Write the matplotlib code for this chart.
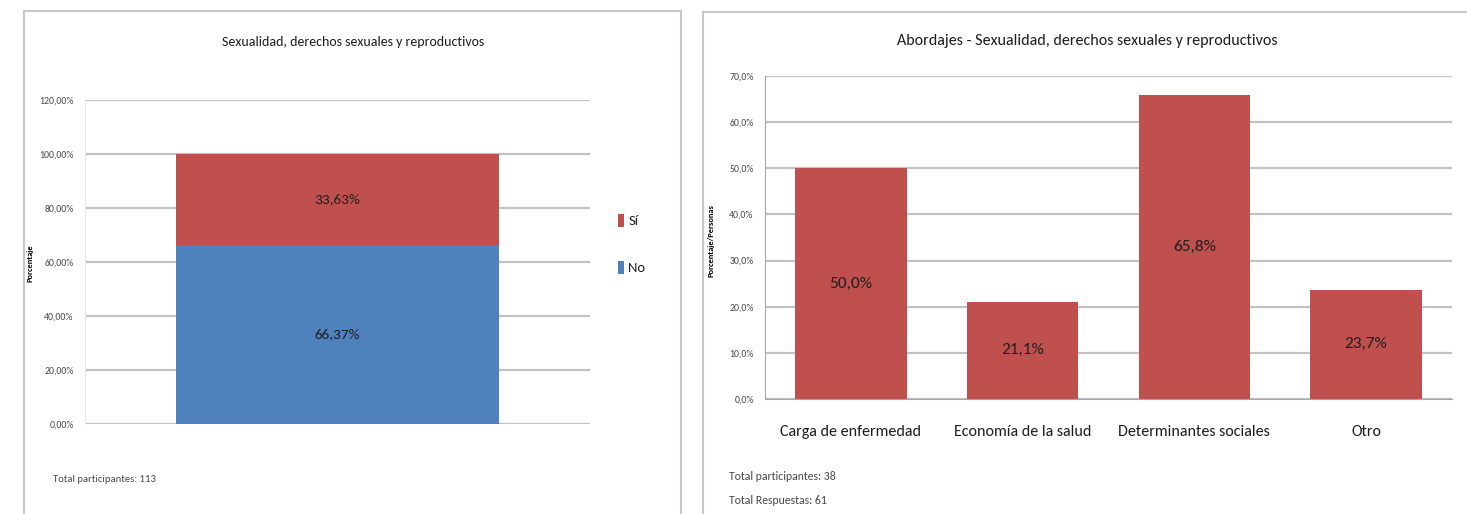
import matplotlib.pyplot as plt
import matplotlib.patches as mpatches
from matplotlib.ticker import FuncFormatter, MultipleLocator
import logging

logging.getLogger("matplotlib.font_manager").setLevel(logging.ERROR)
plt.rcParams["font.family"] = ["Carlito", "DejaVu Sans"]

# participacion (barra apilada)
resp_labels = ["No", "Sí"]
resp_values = [66.37, 33.63]
resp_colors = ["#4F81BD", "#C0504D"]

# abordajes
abord_cats = ["Carga de enfermedad", "Economía de la salud",
              "Determinantes sociales", "Otro"]
abord_values = [50.0, 21.1, 65.8, 23.7]

W, H = 1467, 514
fig = plt.figure(figsize=(W / 100, H / 100), dpi=100)


def px_box(x0, y0, x1, y1):
    # pixel box (top-left origin) -> figure fraction rect
    return [x0 / W, 1 - y1 / H, (x1 - x0) / W, (y1 - y0) / H]


# marcos de cada grafico
for x0, y0, x1, y1 in [(24, 11, 681, 530), (703, 12, 1475, 530)]:
    r = mpatches.Rectangle((x0 / W, 1 - y1 / H), (x1 - x0) / W, (y1 - y0) / H,
                           transform=fig.transFigure, fill=False,
                           edgecolor="#C8C8C8", linewidth=1.5)
    fig.patches.append(r)

grid_c = "#C2C2C2"
txt_c = "#1E1E1E"
tick_c = "#4A4A4A"

# --- grafico izquierdo ---
ax1 = fig.add_axes(px_box(85, 100, 590, 424))
bottom = 0
bars = []
for lab, val, col in zip(resp_labels, resp_values, resp_colors):
    b = ax1.bar([0], [val], bottom=bottom, width=0.64, color=col, label=lab, zorder=2)
    ax1.text(0, bottom + val / 2, f"{val:.2f}%".replace(".", ","),
             ha="center", va="center", fontsize=11, color=txt_c)
    bars.append(b)
    bottom += val
ax1.set_xlim(-0.5, 0.5)
ax1.set_ylim(0, 120)
ax1.yaxis.set_major_locator(MultipleLocator(20))
ax1.yaxis.set_major_formatter(FuncFormatter(lambda v, p: f"{v:.2f}%".replace(".", ",")))
ax1.set_xticks([])
ax1.tick_params(axis="y", length=0, labelsize=7, labelcolor=tick_c, pad=8)
ax1.grid(axis="y", color=grid_c, linewidth=1.6, zorder=0)
ax1.set_axisbelow(True)
for s in ["top", "right", "bottom"]:
    ax1.spines[s].set_visible(False)
ax1.spines["left"].set_color("#E6E6E6")
ax1.set_ylabel("Porcentaje", fontsize=6, fontweight="bold")
ax1.yaxis.set_label_coords(-0.101, 0.497)
ax1.legend(bars[::-1], resp_labels[::-1], loc="center left",
           bbox_to_anchor=(1.03, 0.556), frameon=False, fontsize=10.5,
           handlelength=0.4, handleheight=1.0, handletextpad=0.3,
           labelspacing=2.3, labelcolor=txt_c)
fig.text(353 / W, 1 - 42 / H, "Sexualidad, derechos sexuales y reproductivos",
         ha="center", va="center", fontsize=10, color=txt_c)
fig.text(53 / W, 1 - 480 / H, "Total participantes: 113",
         ha="left", va="center", fontsize=7.7, color=tick_c)

# --- grafico derecho ---
ax2 = fig.add_axes(px_box(765, 76, 1452, 399))
xs = range(len(abord_cats))
ax2.bar(xs, abord_values, width=0.65, color="#C0504D", zorder=2)
for x, v in zip(xs, abord_values):
    ax2.text(x, v / 2, f"{v:.1f}%".replace(".", ","), ha="center", va="center",
             fontsize=12.5, color=txt_c)
ax2.set_xlim(-0.5, len(abord_cats) - 0.5)
ax2.set_ylim(0, 70)
ax2.yaxis.set_major_locator(MultipleLocator(10))
ax2.yaxis.set_major_formatter(FuncFormatter(lambda v, p: f"{v:.1f}%".replace(".", ",")))
ax2.set_xticks(list(xs))
ax2.set_xticklabels(abord_cats, fontsize=11.5, color=txt_c)
ax2.tick_params(axis="y", length=0, labelsize=7, labelcolor=tick_c, pad=8)
ax2.tick_params(axis="x", length=0, pad=19)
ax2.grid(axis="y", color=grid_c, linewidth=1.6, zorder=0)
ax2.set_axisbelow(True)
for s in ["top", "right"]:
    ax2.spines[s].set_visible(False)
ax2.spines["left"].set_color("#A6A6A6")
ax2.spines["bottom"].set_color("#A6A6A6")
ax2.set_ylabel("Porcentaje/Personas", fontsize=6, fontweight="bold")
ax2.yaxis.set_label_coords(-0.073, 0.49)
fig.text(1087 / W, 1 - 41 / H, "Abordajes - Sexualidad, derechos sexuales y reproductivos",
         ha="center", va="center", fontsize=11.5, color=txt_c)
fig.text(729 / W, 1 - 477 / H, "Total participantes: 38",
         ha="left", va="center", fontsize=8.5, color=tick_c)
fig.text(729 / W, 1 - 500 / H, "Total Respuestas: 61",
         ha="left", va="center", fontsize=8.5, color=tick_c)

fig.savefig("out.png", dpi=100, facecolor="white")
